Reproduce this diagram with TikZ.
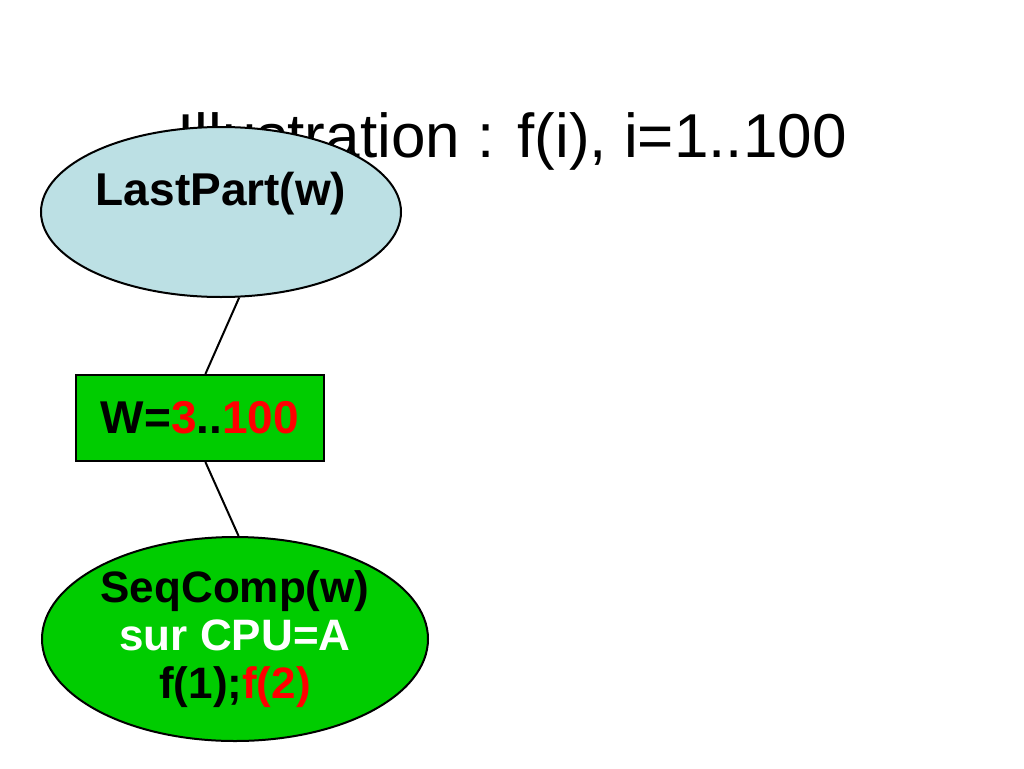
\documentclass[tikz,border=0pt]{standalone}
\usepackage{fontspec}
\setmainfont{Liberation Sans}
\usetikzlibrary{shapes.geometric}

\definecolor{partblue}{RGB}{188,224,228}
\definecolor{boxgreen}{RGB}{0,204,0}
\definecolor{textred}{RGB}{255,0,0}

\begin{document}
\begin{tikzpicture}[x=1pt,y=-1pt,
task shape/.style = {draw, line width=2pt, inner sep=0pt, align=center,
  font=\fontsize{46}{48}\selectfont\bfseries},
task label/.style = {anchor=base, font=\fontsize{46}{48}\selectfont\bfseries},
link/.style = {line width=2pt}
]
\useasboundingbox (0,0) rectangle (1024,768);

\node (title) at (512,157) [anchor=base, font=\fontsize{62}{70}\selectfont] {Illustration : f(i), i=1..100};

\node (lastpart) at (221,212) [task shape, ellipse, fill=partblue, minimum width=360pt, minimum height=170pt] {};
\node (lastlabel) at (221,205) [task label] {LastPart(w)};

\node (wbox) at (200,418) [task shape, rectangle, fill=boxgreen, minimum width=248pt, minimum height=86pt] {W=\textcolor{textred}{3}..\textcolor{textred}{100}};

\node (seqcomp) at (235,639) [task shape, ellipse, fill=boxgreen, minimum width=386pt, minimum height=204pt,
  font=\fontsize{44}{48}\selectfont\bfseries] {SeqComp(w)\\ \textcolor{white}{sur CPU=A}\\ f(1);\textcolor{textred}{f(2)}};

\draw[link] (lastpart.-78) -- (wbox.83);
\draw[link] (wbox.-83) -- (seqcomp.88);
\end{tikzpicture}
\end{document}
